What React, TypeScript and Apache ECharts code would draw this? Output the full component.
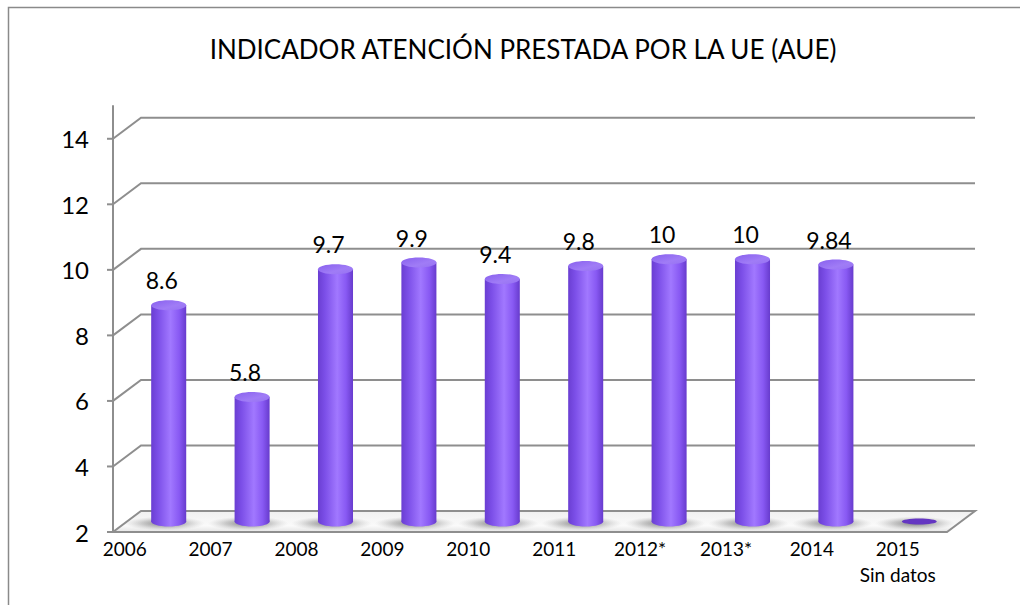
import React, { useEffect, useRef } from "react";
import * as echarts from "echarts";

const title = "INDICADOR ATENCIÓN PRESTADA POR LA UE (AUE)";
const categories = ["2006", "2007", "2008", "2009", "2010", "2011", "2012*", "2013*", "2014", "2015\nSin datos"];
const values = [8.6, 5.8, 9.7, 9.9, 9.4, 9.8, 10, 10, 9.84, 0];
const yTicks = [2, 4, 6, 8, 10, 12, 14];
const Y_MIN = 2;
const Y_MAX = 15;
const Y_INTERVAL = 2;

const FONT = "Lato, 'Open Sans', sans-serif";
const DX = 28;
const DY = -21;
const GRID_COLOR = "#8e8e8e";

export default function App() {
  const ref = useRef<HTMLDivElement>(null);

  useEffect(() => {
    if (!ref.current) return;
    document.body.style.margin = "0";
    const chart = echarts.init(ref.current, undefined, { renderer: "svg" });

    const barGradient = () =>
      new echarts.graphic.LinearGradient(0, 0, 1, 0, [
        { offset: 0, color: "#6a3ed2" },
        { offset: 0.2, color: "#7c4fe8" },
        { offset: 0.55, color: "#a178ff" },
        { offset: 0.8, color: "#8859f3" },
        { offset: 1, color: "#673bcd" },
      ]);

    const option: any = {
      animation: false,
      backgroundColor: "#ffffff",
      title: {
        text: title,
        left: 518,
        top: 31,
        textAlign: "center",
        textStyle: { fontFamily: FONT, fontSize: 26, fontWeight: "normal", color: "#000" },
      },
      graphic: [
        {
          type: "rect",
          shape: { x: 8.5, y: 7.5, width: 1100, height: 700 },
          style: { fill: "none", stroke: "#8a8a8a", lineWidth: 1.5 },
          silent: true,
        },
      ],
      grid: { left: 113, right: 73, top: 106, bottom: 73, containLabel: false },
      xAxis: {
        type: "category",
        data: categories,
        axisLine: { show: false },
        axisTick: { show: false },
        axisLabel: { show: false },
        splitLine: { show: false },
      },
      yAxis: {
        type: "value",
        min: Y_MIN,
        max: Y_MAX,
        interval: Y_INTERVAL,
        axisLine: { show: true, lineStyle: { color: GRID_COLOR, width: 2 } },
        axisTick: { show: false },
        splitLine: { show: false },
        axisLabel: {
          showMaxLabel: false,
          fontFamily: FONT,
          fontSize: 24,
          color: "#000",
          margin: 24,
        },
      },
      series: [
        {
          type: "custom",
          z: 1,
          silent: true,
          data: yTicks.map((v) => [0, v]),
          renderItem: (params: any, api: any) => {
            const cs = params.coordSys;
            const v = api.value(1);
            const y = api.coord([0, v])[1];
            const x0 = cs.x;
            const w = cs.width;
            const children: any[] = [
              {
                type: "line",
                shape: { x1: x0 - 6, y1: y, x2: x0, y2: y },
                style: { stroke: GRID_COLOR, lineWidth: 2 },
              },
            ];
            if (v === Y_MIN) {
              children.push({
                type: "polygon",
                shape: {
                  points: [
                    [x0, y],
                    [x0 + w, y],
                    [x0 + w + DX, y + DY],
                    [x0 + DX, y + DY],
                  ],
                },
                style: {
                  fill: new echarts.graphic.LinearGradient(0, 0, 0, 1, [
                    { offset: 0, color: "#f0f0f0" },
                    { offset: 0.7, color: "#fafafa" },
                    { offset: 1, color: "#e4e4e4" },
                  ]),
                  stroke: GRID_COLOR,
                  lineWidth: 2,
                },
              });
            } else {
              children.push({
                type: "polyline",
                shape: {
                  points: [
                    [x0, y],
                    [x0 + DX, y + DY],
                    [x0 + w + DX, y + DY],
                  ],
                },
                style: { stroke: GRID_COLOR, lineWidth: 2, fill: "none" },
              });
            }
            return { type: "group", children };
          },
        },
        {
          type: "custom",
          z: 3,
          silent: true,
          data: values.map((v, i) => [i, v]),
          renderItem: (params: any, api: any) => {
            const i = api.value(0);
            const v = api.value(1);
            const bw = api.size([1, 0])[0];
            const r = bw * 0.21;
            const ry = 5;
            const base = api.coord([i, Y_MIN]);
            const cx = base[0] + DX / 2;
            const by = base[1] + DY / 2;
            const children: any[] = [];
            children.push({
              type: "ellipse",
              shape: { cx: cx - 4, cy: by + 2, rx: r * 2.3, ry: 7 },
              style: {
                fill: new echarts.graphic.RadialGradient(0.5, 0.5, 0.5, [
                  { offset: 0, color: "rgba(70,70,70,0.7)" },
                  { offset: 0.55, color: "rgba(110,110,110,0.35)" },
                  { offset: 1, color: "rgba(160,160,160,0)" },
                ]),
              },
            });
            if (v <= Y_MIN) {
              children.push({
                type: "ellipse",
                shape: { cx, cy: by, rx: r, ry: 3 },
                style: { fill: "#6436c2" },
              });
              return { type: "group", children };
            }
            const top = api.coord([i, v]);
            const ty = top[1] + DY / 2;
            children.push({
              type: "ellipse",
              shape: { cx, cy: by, rx: r, ry },
              style: { fill: barGradient() },
            });
            children.push({
              type: "rect",
              shape: { x: cx - r, y: ty, width: 2 * r, height: by - ty },
              style: { fill: barGradient() },
            });
            children.push({
              type: "ellipse",
              shape: { cx, cy: ty, rx: r, ry },
              style: {
                fill: new echarts.graphic.LinearGradient(0, 0, 1, 1, [
                  { offset: 0, color: "#8860ee" },
                  { offset: 0.6, color: "#a07cf6" },
                  { offset: 1, color: "#9672f2" },
                ]),
              },
            });
            children.push({
              type: "text",
              style: {
                text: String(v),
                x: cx - 7,
                y: ty - 25,
                textAlign: "center",
                textVerticalAlign: "middle",
                fontFamily: FONT,
                fontSize: 23,
                fill: "#000",
              },
            });
            return { type: "group", children };
          },
        },
        {
          type: "custom",
          z: 4,
          silent: true,
          data: categories.map((c, i) => [i, Y_MIN]),
          renderItem: (params: any, api: any) => {
            const i = api.value(0);
            const p = api.coord([i, Y_MIN]);
            return {
              type: "text",
              style: {
                text: categories[i],
                x: p[0] - 30 + 2.5 * i,
                y: p[1] + 3,
                textAlign: "center",
                textVerticalAlign: "top",
                fontFamily: FONT,
                fontSize: 19,
                lineHeight: 26,
                fill: "#000",
              },
            };
          },
        },
      ],
    };

    chart.setOption(option);
    return () => chart.dispose();
  }, []);

  return (
    <div
      ref={ref}
      style={{ position: "fixed", left: 0, top: 0, width: 1020, height: 605 }}
    />
  );
}
